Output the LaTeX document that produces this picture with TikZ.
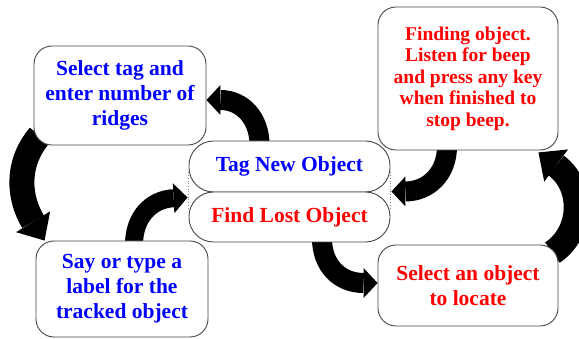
\documentclass[tikz,border=0pt]{standalone}
\usepackage{fontspec}
\setmainfont{Liberation Serif}
\usetikzlibrary{arrows.meta,backgrounds}
\definecolor{txtblue}{RGB}{0,0,255}
\definecolor{txtred}{RGB}{255,0,0}
\definecolor{boxline}{RGB}{70,70,70}
\begin{document}
\begin{tikzpicture}[x=1pt,y=-1pt,
  box/.style={draw=boxline,line width=0.9pt,fill=white,rounded corners=18pt,
    align=center,inner sep=0pt,font=\bfseries\fontsize{21.5}{25}\selectfont},
  pill/.style={box,rounded corners=24.5pt,minimum width=201pt},
  smallarrow/.style={line width=20pt,-{Triangle[length=14pt,width=30pt,line width=0pt]}},
  bigarrow/.style={line width=25pt,-{Triangle[length=22pt,width=40pt,line width=0pt]}},
  guide/.style={draw=gray,dotted,line width=0.7pt}]
\useasboundingbox (0,0) rectangle (579,339);
\clip (0,0) rectangle (579,339);
% boxes
\node[box,text=txtblue,minimum width=172pt,minimum height=99pt] (sel) at (120,95.5)
  {Select tag and\\enter number of\\ridges};
\node[box,text=txtred,minimum width=180pt,minimum height=143pt,
  font=\bfseries\fontsize{19.5}{21.5}\selectfont] (find) at (468,78.5)
  {Finding object.\\Listen for beep\\and press any key\\when finished to\\stop beep.};
\node[pill,text=txtblue,minimum height=51pt] (tag) at (289.5,166.5) {Tag New Object};
\node[pill,text=txtred,minimum height=50pt] (lost) at (289.5,217) {Find Lost Object};
\node[box,text=txtblue,minimum width=172pt,minimum height=96pt] (say) at (122,289)
  {Say or type a\\label for the\\tracked object};
\node[box,text=txtred,minimum width=180pt,minimum height=81pt] (loc) at (468,285.5)
  {Select an object\\to locate};
% dotted guides
\draw[guide] (tag.south west) ++(0,-20) -- ++(0,37);
\draw[guide] (tag.south east) ++(0,-20) -- ++(0,37);
% curved arrows
\begin{scope}[on background layer]
\draw[smallarrow] ([xshift=-30pt,yshift=-4pt]tag.north)
  .. controls +(0,-26) and +(36,0) .. ([yshift=-4.5pt]sel.east);
\draw[bigarrow] ([xshift=6pt,yshift=10pt]sel.south west)
  .. controls +(-25,30) and +(-25,-41) .. ([xshift=9pt]say.north west);
\draw[smallarrow,line width=18pt] ([xshift=12pt,yshift=-4pt]say.north)
  .. controls +(0,-27) and +(-37,2) .. ([xshift=-1pt,yshift=-5pt]tag.south west);
\draw[smallarrow] ([xshift=32.5pt,yshift=4pt]lost.south)
  .. controls +(0,27) and +(-38,0) .. ([yshift=2.5pt]loc.west);
\draw[bigarrow] ([xshift=-6pt,yshift=-8pt]loc.north east)
  .. controls +(30,-20) and +(46,34) .. ([xshift=-20pt,yshift=-2pt]find.south east);
\draw[smallarrow] ([xshift=-21pt,yshift=4pt]find.south)
  .. controls +(0,27) and +(37,0) .. ([xshift=1pt,yshift=1pt]tag.south east);
\end{scope}
\end{tikzpicture}
\end{document}
